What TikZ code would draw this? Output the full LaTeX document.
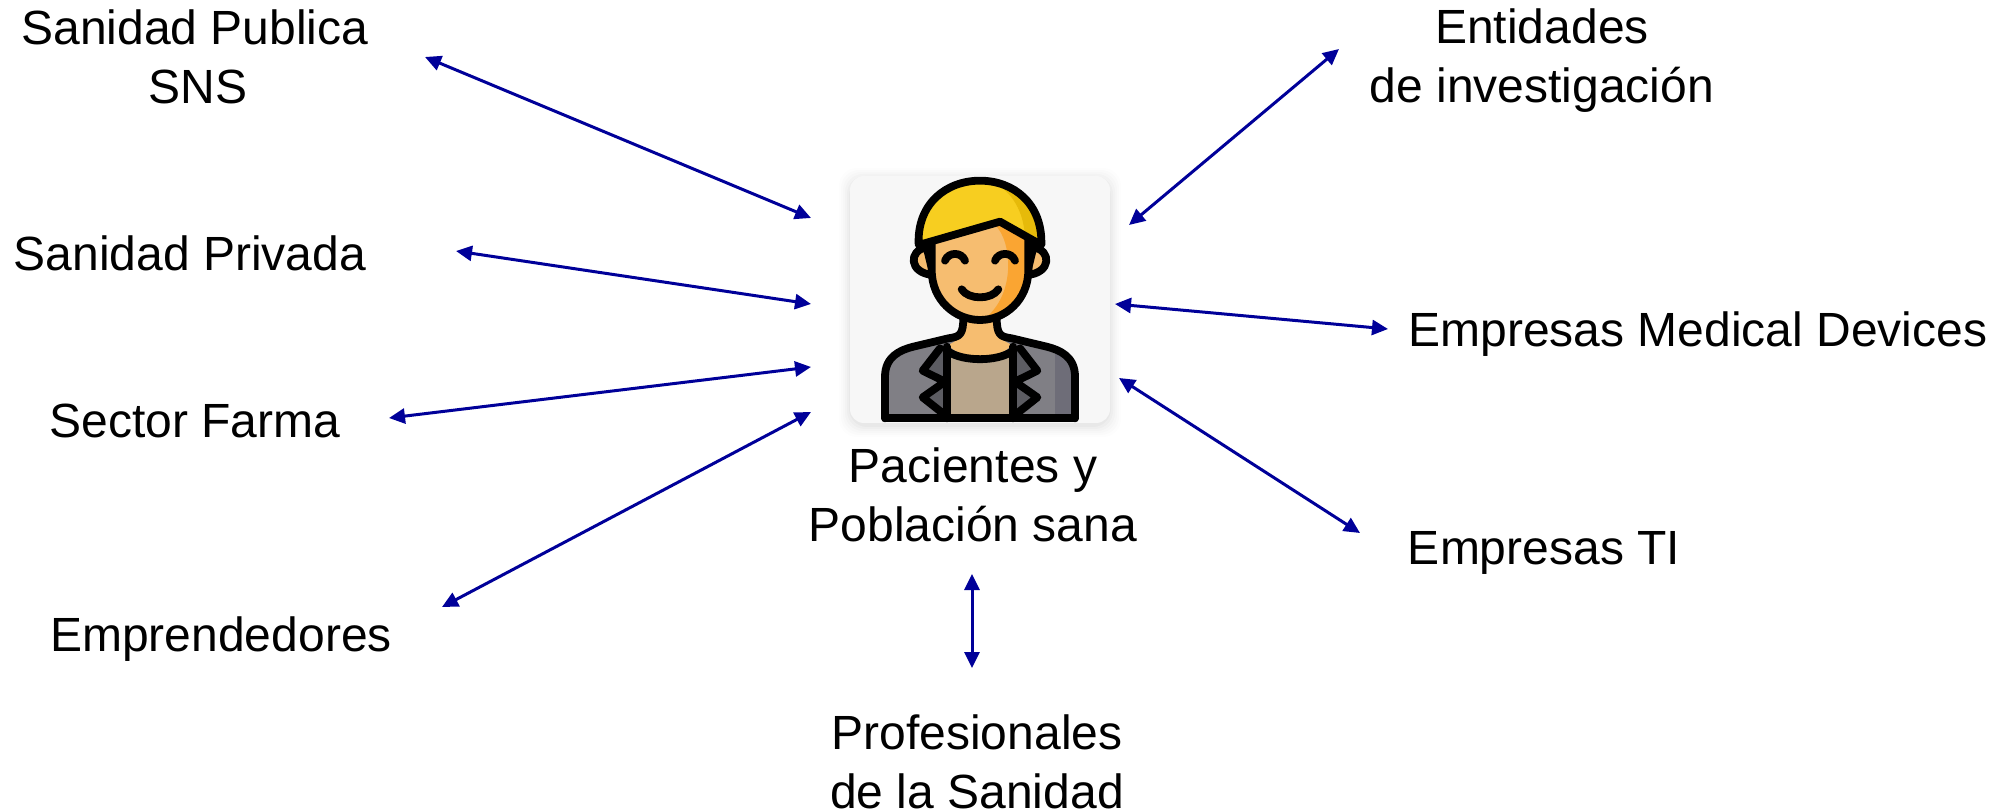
\documentclass[tikz,border=0pt]{standalone}
\usepackage{fontspec}
\setmainfont{Liberation Sans}
\usetikzlibrary{arrows.meta}
\definecolor{arrowblue}{RGB}{0,0,153}
\definecolor{cardgray}{RGB}{247,247,247}
\definecolor{hairy}{RGB}{247,206,32}
\definecolor{hairdk}{RGB}{230,186,10}
\definecolor{skin}{RGB}{246,189,112}
\definecolor{skindk}{RGB}{250,165,50}
\definecolor{jacket}{RGB}{128,127,133}
\definecolor{jacketdk}{RGB}{110,109,120}
\definecolor{lapel}{RGB}{92,92,98}
\definecolor{shirt}{RGB}{185,166,140}
\tikzset{
  x=0.5pt,y=-0.5pt,
  lbl/.style={font=\fontsize{24pt}{29.5pt}\selectfont,align=center,inner sep=0pt,text=black},
  link/.style={draw=arrowblue,line width=1.5pt,{Triangle[length=8pt,width=7.5pt]}-{Triangle[length=8pt,width=7.5pt]}},
  ink/.style={draw=black,line width=3.9pt,line join=round,line cap=round},
}
\begin{document}
\begin{tikzpicture}
\useasboundingbox (0,0) rectangle (2008,812);
\fill[white] (0,0) rectangle (2008,812);
% card shadow
\foreach \g/\o in {11/0.008,9/0.01,7/0.012,5/0.015,3/0.02,1/0.025}
  \fill[black,opacity=\o,rounded corners=9pt] (850-\g,176-\g+3) rectangle (1110+\g,423+\g+3);
\node[draw=none,fill=cardgray,rounded corners=7pt,minimum width=130pt,minimum height=123.5pt,inner sep=0pt] (card) at (980,299.5) {};
% person, in crop coordinates
\begin{scope}[shift={(820,160)},x=0.16667pt,y=-0.16667pt]
  % body
  \fill[jacket] (195,775) -- (195,650) .. controls (195,590) and (240,570) .. (280,560) -- (420,530) -- (540,530) -- (680,560) .. controls (720,570) and (760,590) .. (760,650) -- (760,775) -- cycle;
  \fill[jacketdk] (705,775) -- (705,570) .. controls (745,590) and (760,620) .. (760,650) -- (760,775) -- cycle;
  \fill[shirt] (385,590) -- (575,590) -- (575,775) -- (385,775) -- cycle;
  \fill[lapel] (375,565) -- (310,632) -- (375,665) -- (310,712) -- (375,765) -- cycle;
  \fill[lapel] (585,565) -- (650,632) -- (585,665) -- (650,712) -- (585,765) -- cycle;
  \fill[skin] (430,470) -- (430,530) -- (385,555) .. controls (420,600) and (540,600) .. (575,555) -- (530,530) -- (530,470) -- cycle;
  \draw[ink] (195,775) -- (195,650) .. controls (195,590) and (240,570) .. (280,560) -- (385,535) .. controls (420,530) and (430,525) .. (430,470);
  \draw[ink] (765,775) -- (765,650) .. controls (765,590) and (720,570) .. (680,560) -- (575,535) .. controls (540,530) and (530,525) .. (530,470);
  \draw[ink] (195,775) -- (765,775);
  \draw[ink] (385,575) .. controls (430,605) and (530,605) .. (575,575);
  \draw[ink] (380,560) -- (380,775);
  \draw[ink] (580,560) -- (580,775);
  \draw[ink] (360,565) -- (308,632) -- (375,665) -- (308,712) -- (375,765);
  \draw[ink] (600,565) -- (652,632) -- (585,665) -- (652,712) -- (585,765);
  % ears
  \draw[ink,fill=skin] (320,262) .. controls (265,270) and (265,340) .. (340,345) -- cycle;
  \draw[ink,fill=skin] (640,262) .. controls (695,270) and (695,340) .. (620,345) -- cycle;
  % head
  \fill[skin] (335,235) -- (335,330) .. controls (335,420) and (405,480) .. (480,480) .. controls (555,480) and (625,420) .. (625,330) -- (625,235) -- (540,180) -- cycle;
  \fill[skindk] (525,195) .. controls (575,240) and (590,400) .. (495,475) .. controls (565,475) and (625,420) .. (625,330) -- (625,235) -- (540,180) -- cycle;
  \draw[ink] (335,240) -- (335,330) .. controls (335,420) and (405,480) .. (480,480) .. controls (555,480) and (625,420) .. (625,330) -- (625,240);
  % hair
  \fill[hairy] (296,255) .. controls (290,130) and (380,62) .. (480,62) .. controls (580,62) and (668,130) .. (664,255) -- (540,185) -- cycle;
  \fill[hairdk] (530,72) .. controls (590,110) and (610,170) .. (615,226) -- (664,255) .. controls (668,160) and (610,85) .. (530,72) -- cycle;
  \draw[ink] (296,255) .. controls (290,130) and (380,62) .. (480,62) .. controls (580,62) and (668,130) .. (664,255) -- (540,185) -- cycle;
  % eyes and mouth
  \draw[ink] (375,302) .. controls (385,275) and (425,275) .. (435,302);
  \draw[ink] (525,302) .. controls (535,275) and (575,275) .. (585,302);
  \draw[ink] (425,388) .. controls (445,420) and (515,420) .. (535,388);
\end{scope}
% labels
\node[lbl] (sns) at (195,57) {Sanidad Publica\\\hspace*{3pt}SNS};
\node[lbl] (priv) at (190,253) {Sanidad Privada};
\node[lbl] (farma) at (195,421) {Sector Farma};
\node[lbl] (empr) at (221,639) {Emprendedores};
\node[lbl] (ent) at (1542,61) {Entidades\\de investigación};
\node[lbl] (med) at (1698,334) {Empresas Medical Devices};
\node[lbl] (ti) at (1544,553) {Empresas TI};
\node[lbl] (pac) at (973,495) {Pacientes y\\Población sana};
\node[lbl] (prof) at (977,762) {Profesionales\\de la Sanidad};
% arrow ends
\coordinate (a1) at (425,57);  \coordinate (a2) at (811,218);
\coordinate (b1) at (456,251); \coordinate (b2) at (811,304);
\coordinate (c1) at (389,418); \coordinate (c2) at (811,367);
\coordinate (d1) at (442,607); \coordinate (d2) at (811,412);
\coordinate (e1) at (1339,49); \coordinate (e2) at (1129,225);
\coordinate (f1) at (1115,304);\coordinate (f2) at (1388,329);
\coordinate (g1) at (1119,378);\coordinate (g2) at (1360,533);
\coordinate (h1) at (972,574); \coordinate (h2) at (972,668);
\foreach \p/\q in {a1/a2,b1/b2,c1/c2,d1/d2,e1/e2,f1/f2,g1/g2,h1/h2}
  \draw[link] (\p) -- (\q);
\end{tikzpicture}
\end{document}
